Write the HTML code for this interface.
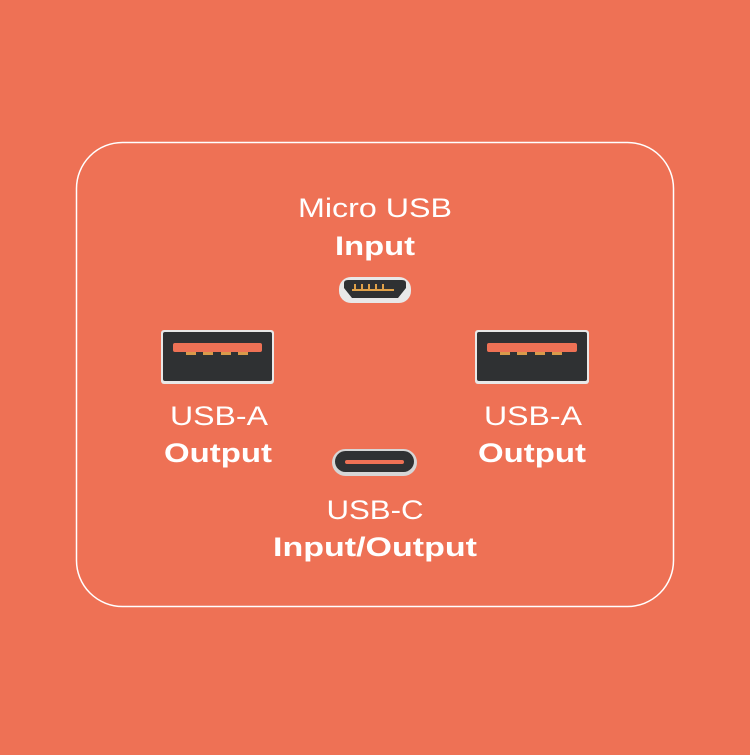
<!DOCTYPE html>
<html><head><style>
body{margin:0;width:750px;height:750px;background:#ee7155;overflow:hidden;font-family:"Liberation Sans",sans-serif;}
</style></head><body>
<svg width="750" height="750" xmlns="http://www.w3.org/2000/svg">
<rect width="750" height="750" fill="#ee7155"/>
<rect x="76.5" y="142.5" width="597" height="464" rx="46" fill="none" stroke="#fff" stroke-width="1.5"/>
<g font-family="Liberation Sans, sans-serif" fill="#fff" text-anchor="middle" font-size="27">
<text x="375" y="217" textLength="154" lengthAdjust="spacingAndGlyphs">Micro USB</text>
<text x="375" y="255" font-weight="bold" textLength="80" lengthAdjust="spacingAndGlyphs">Input</text>
<text x="219" y="425" textLength="98" lengthAdjust="spacingAndGlyphs">USB-A</text>
<text x="218" y="462" font-weight="bold" textLength="108" lengthAdjust="spacingAndGlyphs">Output</text>
<text x="533" y="425" textLength="98" lengthAdjust="spacingAndGlyphs">USB-A</text>
<text x="532" y="462" font-weight="bold" textLength="108" lengthAdjust="spacingAndGlyphs">Output</text>
<text x="375" y="519" textLength="97" lengthAdjust="spacingAndGlyphs">USB-C</text>
<text x="375" y="556" font-weight="bold" textLength="204" lengthAdjust="spacingAndGlyphs">Input/Output</text>
</g>
<!-- micro usb -->
<rect x="339" y="277" width="72" height="26" rx="12" fill="#e8e8e8"/>
<path d="M344 283 Q344 280 348 280 L402 280 Q406 280 406 283 L406 288 L398 298 L352 298 L344 288 Z" fill="#2f3133"/>
<g fill="#e0a24a"><rect x="354" y="284" width="2" height="6"/><rect x="361" y="284" width="2" height="6"/><rect x="368" y="284" width="2" height="6"/><rect x="375" y="284" width="2" height="6"/><rect x="382" y="284" width="2" height="6"/><rect x="352" y="289" width="42" height="2"/></g>
<!-- usb-a left -->
<g transform="translate(161,330)">
<rect width="113" height="54" rx="3" fill="#e8e8e8"/>
<rect x="2" y="2" width="109" height="49" rx="2" fill="#2f3133"/>
<rect x="12" y="13" width="89" height="9" rx="2" fill="#ee7155"/>
<g fill="#d99a4a"><rect x="25" y="22" width="10" height="3"/><rect x="42" y="22" width="10" height="3"/><rect x="60" y="22" width="10" height="3"/><rect x="77" y="22" width="10" height="3"/></g>
</g>
<g transform="translate(475,330)">
<rect width="114" height="54" rx="3" fill="#e8e8e8"/>
<rect x="2" y="2" width="110" height="49" rx="2" fill="#2f3133"/>
<rect x="12" y="13" width="90" height="9" rx="2" fill="#ee7155"/>
<g fill="#d99a4a"><rect x="25" y="22" width="10" height="3"/><rect x="42" y="22" width="10" height="3"/><rect x="60" y="22" width="10" height="3"/><rect x="77" y="22" width="10" height="3"/></g>
</g>
<!-- usb-c -->
<rect x="332" y="449" width="85" height="27" rx="13.5" fill="#d6d6d6"/>
<rect x="335" y="451" width="79" height="21" rx="10.5" fill="#2f3133"/>
<rect x="345" y="460" width="59" height="4" rx="2" fill="#ee7155"/>
</svg>
</body></html>
